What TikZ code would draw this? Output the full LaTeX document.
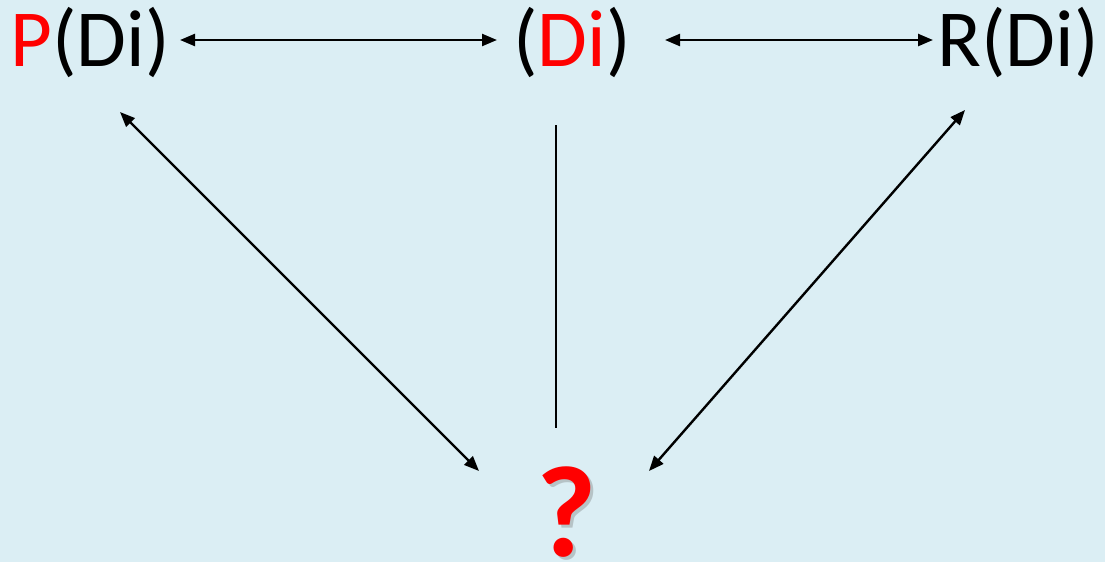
\documentclass[tikz,border=0pt]{standalone}
\usepackage{fontspec}
\setmainfont{Carlito}
\usetikzlibrary{arrows.meta}
\definecolor{bg}{HTML}{DBEEF4}
\definecolor{qred}{HTML}{FF0000}
\tikzset{
  lbl/.style={inner sep=0pt, anchor=base, font=\fontsize{81}{90}\selectfont},
  qmark/.style={inner sep=0pt, anchor=base, font=\fontsize{130}{140}\selectfont\bfseries},
  conn/.style={line width=2.4pt, {Triangle[length=15pt,width=12pt]}-{Triangle[length=15pt,width=12pt]}},
  plain/.style={line width=2.4pt}
}
\begin{document}
\begin{tikzpicture}[x=1pt,y=-1pt]
\fill[bg] (0,0) rectangle (1105,562);
\useasboundingbox (0,0) rectangle (1105,562);
\node[lbl] (P) at (90,66) {\textcolor{qred}{P}(Di)};
\node[lbl] (D) at (572,66) {(\textcolor{qred}{Di})};
\node[lbl] (R) at (1018,66) {R(Di)};
\node[qmark, text=black!55, opacity=0.35] (Qs) at (570,559) {?};
\node[qmark, text=qred] (Q) at (567,556) {?};
\coordinate (p1) at (180,40); \coordinate (d1) at (497,40);
\coordinate (d2) at (665,40); \coordinate (r1) at (933,40);
\coordinate (p2) at (120,112); \coordinate (q1) at (479,471);
\coordinate (d3) at (556,125); \coordinate (q2) at (556,428);
\coordinate (r2) at (965,110); \coordinate (q3) at (649,471);
\draw[conn] (p1) -- (d1);
\draw[conn] (d2) -- (r1);
\draw[conn] (p2) -- (q1);
\draw[plain] (d3) -- (q2);
\draw[conn] (r2) -- (q3);
\end{tikzpicture}
\end{document}
